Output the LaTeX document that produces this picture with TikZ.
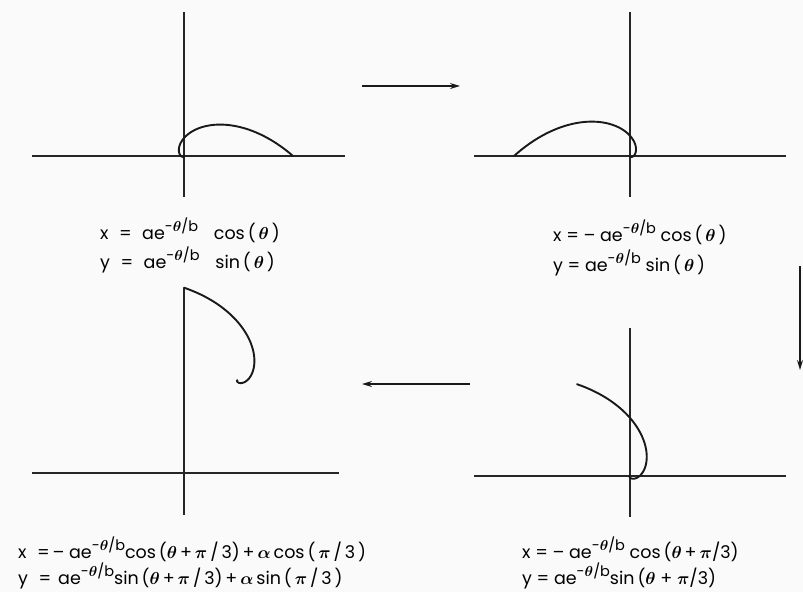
\documentclass[tikz,border=0pt]{standalone}
\usepackage{fontspec}
\setmainfont{Poppins}
\usetikzlibrary{arrows.meta}
\newcommand\thh{{\boldmath$\theta$}}
\newcommand\ppi{{\boldmath$\pi$}}
\newcommand\aal{{\boldmath$\alpha$}}
\newcommand\expo{e\raisebox{0.42em}{\fontsize{14.5}{14.5}\selectfont -\thh/b}}
\begin{document}
\begin{tikzpicture}[x=1pt,y=-1pt,
  axis/.style={line width=1.3pt, black!85},
  curve/.style={line width=1.9pt, black!90, line join=round, line cap=round},
  flow/.style={line width=1.3pt, black!90, -{Stealth[length=10pt,width=6pt]}},
  eq/.style={anchor=base west, inner sep=0pt, font=\fontsize{17.5}{21}\selectfont}]
\useasboundingbox[fill=black!2] (0,0) rectangle (803,592);

% ---------- panel 1 (top left) ----------
\coordinate (p1t) at (184,12);  \coordinate (p1b) at (184,197);
\coordinate (p1l) at (32,156);  \coordinate (p1r) at (345,156);
\draw[axis] (p1t) -- (p1b);
\draw[axis] (p1l) -- (p1r);
\begin{scope}[shift={(184,156)},yscale=-1]
  \draw[curve] plot[domain=0:6.3,samples=200,variable=\t]
    ({109*exp(-\t/0.87)*cos(\t r)},{109*exp(-\t/0.87)*sin(\t r)});
\end{scope}
\node[eq] (e1a) at (100,239) {x\hspace{0.6em}=\hspace{0.6em}a\expo\hspace{0.9em}cos\,(\,\thh\,)};
\node[eq] (e1b) at (100,268) {y\hspace{0.6em}=\hspace{0.6em}a\expo\hspace{0.9em}sin\,(\,\thh\,)};

% ---------- panel 2 (top right) ----------
\coordinate (p2t) at (630,12);  \coordinate (p2b) at (630,197);
\coordinate (p2l) at (474,156); \coordinate (p2r) at (786,156);
\draw[axis] (p2t) -- (p2b);
\draw[axis] (p2l) -- (p2r);
\begin{scope}[shift={(630,156)},yscale=-1]
  \draw[curve] plot[domain=0:6.3,samples=200,variable=\t]
    ({-116*exp(-\t/0.9)*cos(\t r)},{116*exp(-\t/0.9)*sin(\t r)});
\end{scope}
\node[eq] (e2a) at (553,241) {x = -- a\expo\ cos\,(\,\thh\,)};
\node[eq] (e2b) at (553,271) {y = a\expo\ sin\,(\,\thh\,)};

% ---------- panel 3 (bottom right) ----------
\coordinate (p3t) at (630,328); \coordinate (p3b) at (630,517);
\coordinate (p3l) at (474,476); \coordinate (p3r) at (786,476);
\draw[axis] (p3t) -- (p3b);
\draw[axis] (p3l) -- (p3r);
\begin{scope}[shift={(630,476)},yscale=-1]
  \draw[curve] plot[domain=0:6,samples=200,variable=\t]
    ({-106*exp(-\t/0.87)*cos((\t+1.0472) r)},{106*exp(-\t/0.87)*sin((\t+1.0472) r)});
\end{scope}
\node[eq] (e3a) at (522,558) {x = -- a\expo\ cos\,(\thh\,+\,\ppi/3)};
\node[eq] (e3b) at (522,584) {y = a\expo sin\,(\thh\ + \ppi/3)};

% ---------- panel 4 (bottom left) ----------
\coordinate (p4t) at (184,288); \coordinate (p4b) at (184,515);
\coordinate (p4l) at (32,473);  \coordinate (p4r) at (339,473);
\draw[axis] (p4t) -- (p4b);
\draw[axis] (p4l) -- (p4r);
\begin{scope}[shift={(184,473)},yscale=-1]
  \draw[curve] plot[domain=0:6,samples=200,variable=\t]
    ({53.5-107*exp(-\t/0.87)*cos((\t+1.0472) r)},{92.66+107*exp(-\t/0.87)*sin((\t+1.0472) r)});
\end{scope}
\node[eq] (e4a) at (18,558) {x\hspace{0.6em}=\,-- a\expo cos\,(\thh\,+\,\ppi\,/\,3)\,+\,\aal\,cos\,(\,\ppi\,/\,3\,)};
\node[eq] (e4b) at (18,584) {y\hspace{0.6em}=\hspace{0.4em}a\expo sin\,(\thh\,+\,\ppi\,/\,3)\,+\,\aal\,sin\,(\,\ppi\,/\,3\,)};

% ---------- arrows ----------
\coordinate (a1s) at (362,86);  \coordinate (a1e) at (460,86);
\coordinate (a2s) at (800,266); \coordinate (a2e) at (800,370);
\coordinate (a3s) at (470,384); \coordinate (a3e) at (362,384);
\draw[flow] (a1s) -- (a1e);
\draw[flow] (a2s) -- (a2e);
\draw[flow] (a3s) -- (a3e);
\end{tikzpicture}
\end{document}
